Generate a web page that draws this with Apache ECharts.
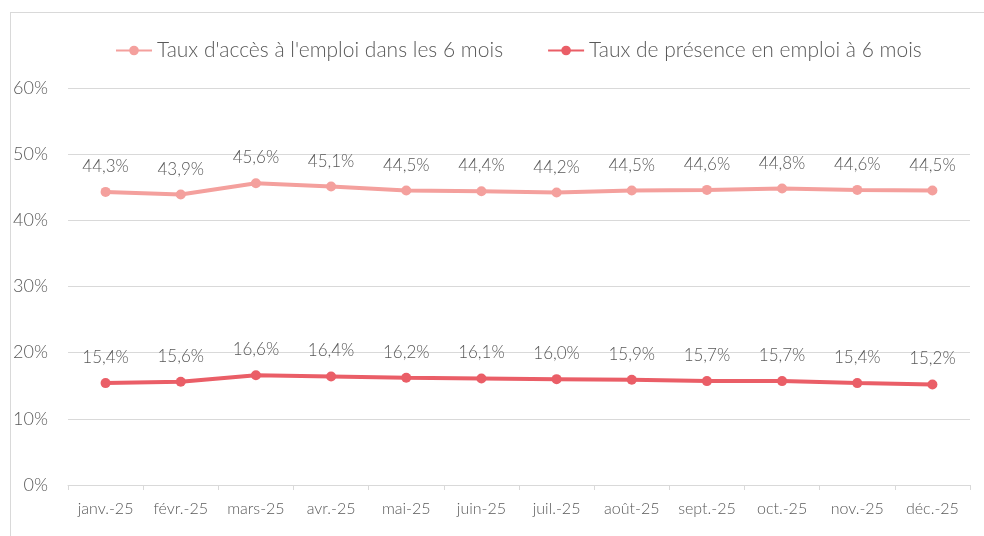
<!DOCTYPE html>
<html>
<head>
<meta charset="utf-8">
<script src="https://cdn.jsdelivr.net/npm/echarts@6/dist/echarts.min.js"></script>
<style>
  html, body { margin: 0; padding: 0; background: #fff; }
  #frame { position: absolute; left: 10px; top: 12px; width: 1000px; height: 600px; border: 1px solid #d9d9d9; }
  #chart { position: absolute; left: 0; top: 0; width: 984px; height: 536px; }
</style>
</head>
<body>
<div id="frame"></div>
<div id="chart"></div>
<script>
const months = ['janv.-25', 'févr.-25', 'mars-25', 'avr.-25', 'mai-25', 'juin-25',
  'juil.-25', 'août-25', 'sept.-25', 'oct.-25', 'nov.-25', 'déc.-25']
const accesEmploi = [44.3, 43.9, 45.6, 45.1, 44.5, 44.4, 44.2, 44.5, 44.6, 44.8, 44.6, 44.5]
const presenceEmploi = [15.4, 15.6, 16.6, 16.4, 16.2, 16.1, 16.0, 15.9, 15.7, 15.7, 15.4, 15.2]
const seriesNames = ["Taux d'accès à l'emploi dans les 6 mois", 'Taux de présence en emploi à 6 mois']

const font = 'Lato, "Open Sans", sans-serif'
const textColor = '#595959'
const fmt = v => v.toFixed(1).replace('.', ',') + '%'

const chart = echarts.init(document.getElementById('chart'))

const makeSeries = (name, data, color) => ({
  name,
  type: 'line',
  data,
  symbol: 'circle',
  symbolSize: 10,
  lineStyle: { color, width: 4 },
  itemStyle: { color },
  label: {
    show: true,
    position: 'top',
    distance: 12,
    color: textColor,
    fontFamily: font,
    fontWeight: 300,
    fontSize: 17,
    formatter: p => fmt(p.value)
  },
  emphasis: { disabled: true }
})

chart.setOption({
  animation: false,
  textStyle: { fontFamily: font },
  legend: {
    top: 35,
    left: 110,
    itemWidth: 36,
    itemHeight: 12,
    itemGap: 44,
    textStyle: { color: textColor, fontSize: 21, fontWeight: 300, fontFamily: font },
    data: seriesNames
  },
  grid: { left: 68, right: 14, top: 88, bottom: 51 },
  xAxis: {
    type: 'category',
    data: months,
    boundaryGap: true,
    axisLine: { lineStyle: { color: '#d9d9d9', width: 1 } },
    axisTick: { show: true, length: 5, lineStyle: { color: '#d9d9d9' } },
    axisLabel: { color: textColor, fontSize: 16, fontWeight: 300, fontFamily: font, margin: 16, interval: 0 }
  },
  yAxis: {
    type: 'value',
    min: 0,
    max: 60,
    interval: 10,
    axisLine: { show: false },
    axisTick: { show: false },
    axisLabel: { color: textColor, fontSize: 18, fontWeight: 300, fontFamily: font, margin: 20, formatter: v => v + '%' },
    splitLine: { lineStyle: { color: '#d9d9d9', width: 1 } }
  },
  series: [
    makeSeries(seriesNames[0], accesEmploi, '#F4A09D'),
    makeSeries(seriesNames[1], presenceEmploi, '#EA5E67')
  ]
})
</script>
</body>
</html>
